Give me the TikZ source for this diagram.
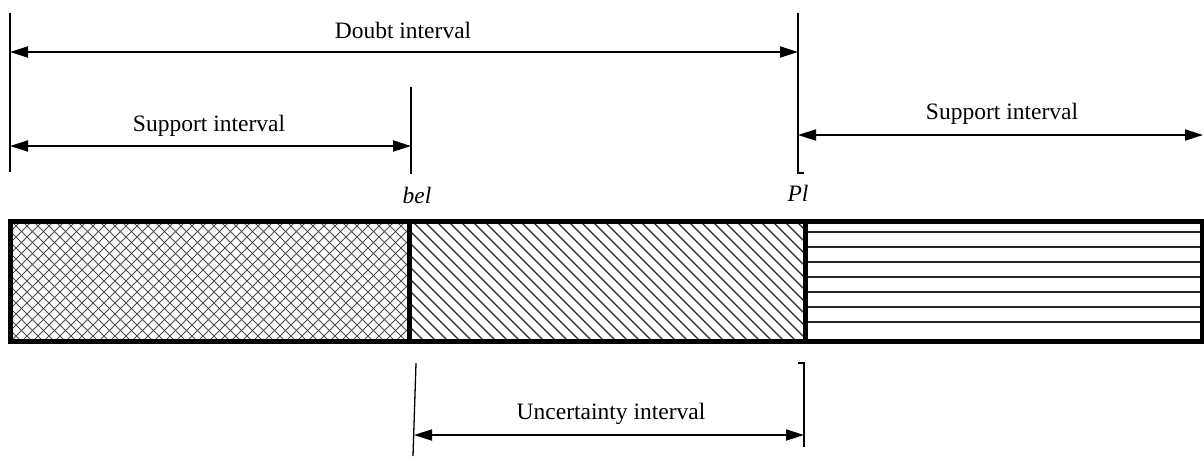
\documentclass[tikz,border=0pt]{standalone}
\usepackage{fontspec}
\setmainfont{Liberation Serif}
\usetikzlibrary{arrows.meta}
\begin{document}
\begin{tikzpicture}[x=1pt,y=-1pt,
  dimline/.style={line width=1.8pt,{Triangle[length=18pt,width=11pt]}-{Triangle[length=18pt,width=11pt]}},
  ticks/.style={line width=1.3pt},
  lbl/.style={font=\fontsize{23.5}{28}\selectfont, inner sep=0pt, anchor=base},
  hatchline/.style={line width=1.1pt, black!85},
  barborder/.style={line width=5pt}]
\useasboundingbox (0,0) rectangle (1204,456);
% key coordinates
\coordinate (L) at (10,221);
\coordinate (B) at (409,221);
\coordinate (P) at (805,221);
\coordinate (R) at (1202,341);
% patterns
\begin{scope}
  \clip (10,221) rectangle (409,341);
  \foreach \k in {-121,-110,...,420} {
    \draw[hatchline, line width=0.9pt, black!70] (\k,221) -- ++(120,120);
    \draw[hatchline, line width=0.9pt, black!70] (\k,341) -- ++(120,-120);
  }
\end{scope}
\begin{scope}
  \clip (409,221) rectangle (805,341);
  \foreach \k in {280,292,...,820} {
    \draw[hatchline] (\k,221) -- ++(120,120);
  }
\end{scope}
\foreach \yy in {232,247,262,277,292,307,322} {
  \draw[hatchline, line width=1.3pt] (805,\yy) -- (1202,\yy);
}
% bar
\draw[barborder] (L) rectangle (R);
\coordinate (Bb) at (409,341);
\coordinate (Pb) at (805,341);
\draw[barborder] (B) -- (Bb);
\draw[barborder] (P) -- (Pb);
% top ticks
\coordinate (t1a) at (10,13);  \coordinate (t1b) at (10,172);
\coordinate (t2a) at (411,87); \coordinate (t2b) at (411,174);
\coordinate (t3a) at (798,13); \coordinate (t3b) at (798,173); \coordinate (t3c) at (804,173);
\draw[ticks] (t1a) -- (t1b);
\draw[ticks] (t2a) -- (t2b);
\draw[ticks] (t3a) -- (t3b) -- (t3c);
% bottom ticks
\coordinate (u1a) at (416,363); \coordinate (u1b) at (413,456);
\coordinate (u2a) at (798,363); \coordinate (u2b) at (804,363); \coordinate (u2c) at (804,447);
\draw[ticks] (u1a) -- (u1b);
\draw[ticks] (u2a) -- (u2b) -- (u2c);
% dimension arrows
\coordinate (d1a) at (10,52);   \coordinate (d1b) at (798,52);
\coordinate (d2a) at (10,146);  \coordinate (d2b) at (411,146);
\coordinate (d3a) at (798,135); \coordinate (d3b) at (1203,135);
\coordinate (d4a) at (414,435); \coordinate (d4b) at (804,435);
\draw[dimline] (d1a) -- (d1b);
\draw[dimline] (d2a) -- (d2b);
\draw[dimline] (d3a) -- (d3b);
\draw[dimline] (d4a) -- (d4b);
% labels
\node[lbl] (doubt) at (403,38) {Doubt interval};
\node[lbl] (supl) at (209,131) {Support interval};
\node[lbl] (supr) at (1002,119) {Support interval};
\node[lbl] (bel) at (417,203) {\itshape bel};
\node[lbl] (pl) at (798,201) {\itshape Pl};
\node[lbl] (unc) at (611,419) {Uncertainty interval};
\end{tikzpicture}
\end{document}
